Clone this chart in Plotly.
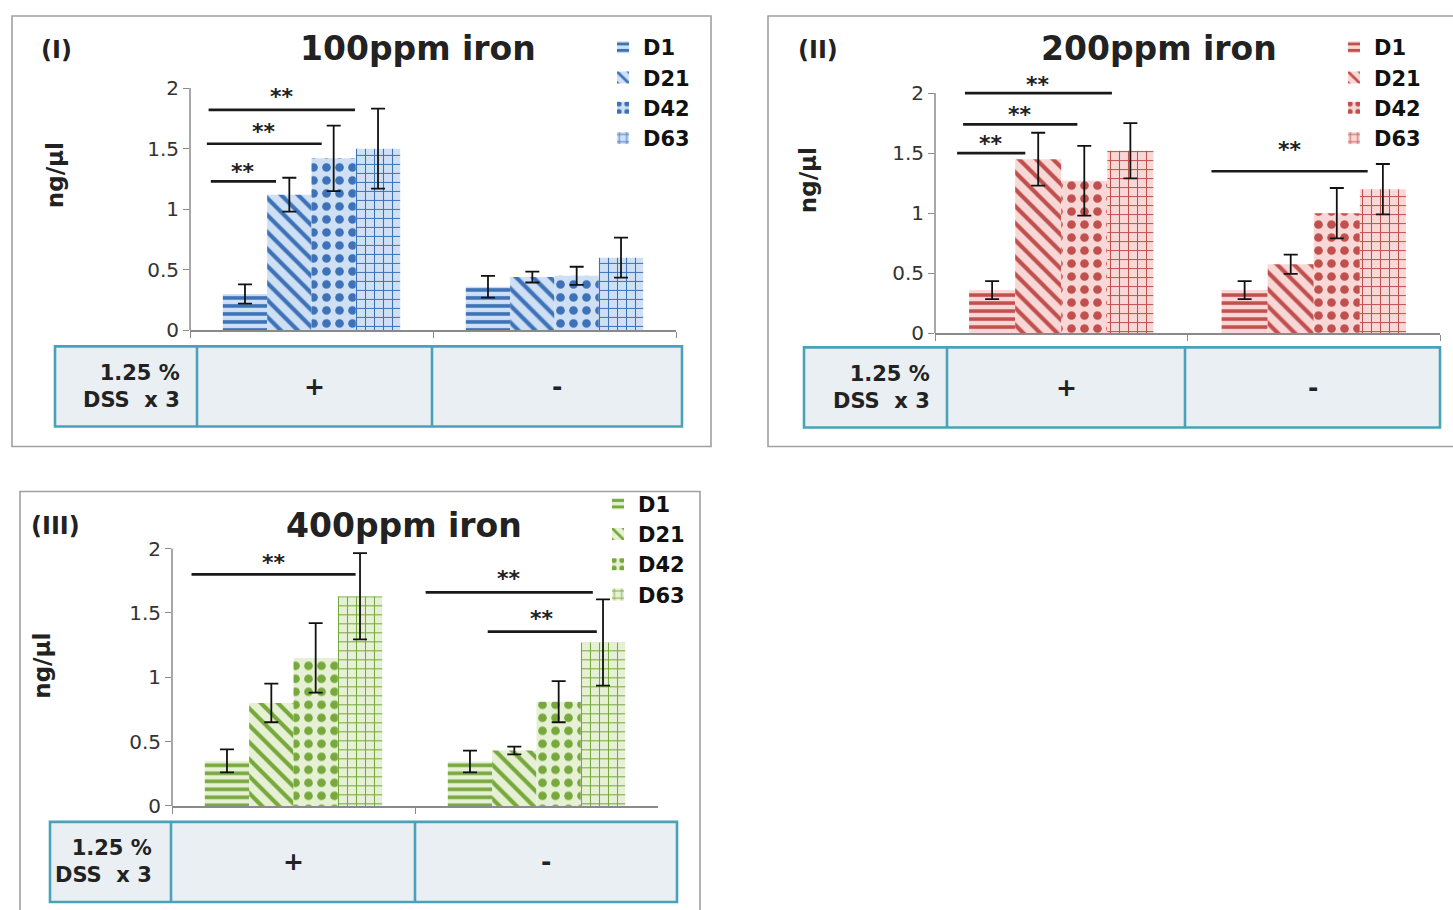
import plotly.graph_objects as go

# ---------------- data ----------------
groups = ["+", "-"]
series = ["D1", "D21", "D42", "D63"]

iron100_pos = [0.30, 1.12, 1.42, 1.50]
iron100_pos_err = [0.08, 0.14, 0.27, 0.33]
iron100_neg = [0.36, 0.44, 0.45, 0.60]
iron100_neg_err = [0.09, 0.045, 0.075, 0.165]

iron200_pos = [0.36, 1.45, 1.27, 1.52]
iron200_pos_err = [0.075, 0.22, 0.29, 0.23]
iron200_neg = [0.36, 0.575, 1.00, 1.20]
iron200_neg_err = [0.075, 0.08, 0.21, 0.21]

iron400_pos = [0.35, 0.80, 1.15, 1.63]
iron400_pos_err = [0.09, 0.15, 0.27, 0.335]
iron400_neg = [0.345, 0.43, 0.81, 1.27]
iron400_neg_err = [0.085, 0.03, 0.16, 0.335]

panel_titles = ["100ppm iron", "200ppm iron", "400ppm iron"]
panel_tags = ["(I)", "(II)", "(III)"]
y_ticks = [0, 0.5, 1, 1.5, 2]
y_tick_text = ["0", "0.5", "1", "1.5", "2"]
table_label = "1.25 %<br>DSS  x 3"

# significance brackets: (group index, start slot, end slot, line level, star level)
sig100 = [(0, -0.27, 1.2, 1.23, 1.31), (0, -0.36, 2.23, 1.54, 1.64), (0, -0.32, 2.98, 1.82, 1.93)]
sig200 = [(0, -0.26, 1.22, 1.50, 1.58), (0, -0.13, 2.35, 1.74, 1.82), (0, -0.09, 3.1, 2.00, 2.07),
          (1, -0.22, 3.17, 1.35, 1.53)]
sig400 = [(0, -0.30, 3.4, 1.80, 1.89), (1, -0.5, 3.27, 1.66, 1.77), (1, 0.9, 3.36, 1.355, 1.46)]

# ---------------- styles ----------------
W, H = 1453, 910
HC = 897  # vertical conversion basis
BARGAP = 0.27
pat_shapes = ["-", "\\", ".", "+"]
pat_sizes = [8, 12, 13, 9]
pat_solid = [0.45, 0.35, 0.35, 0.22]
palettes = [
    dict(fg="#3d72b8", bg="#cfe0f4"),
    dict(fg="#c0504d", bg="#f8d8d7"),
    dict(fg="#77a83c", bg="#e6f0d4"),
]
FONT = "DejaVu Sans"


def bold(size, color="#222222"):
    return dict(family=FONT, size=size, color=color, weight="bold")


def px(x):
    return x / W


def py(y):
    return 1 - y / HC


# panel geometry (reference pixels)
panels = [
    dict(x0=190, x1=676, y0=330, y2=88,
         frame=(12, 16, 711, 446), table=(55, 346, 682, 426, 197, 432),
         title=(418, 48), tag=(56, 50), ylab=(55, 175), legend=(603, 27),
         tbl_text_x=182),
    dict(x0=935, x1=1440, y0=333, y2=93,
         frame=(768, 16, 1470, 446), table=(804, 347, 1440, 427, 947, 1185),
         title=(1159, 48), tag=(818, 50), ylab=(808, 180), legend=(1334, 27),
         tbl_text_x=932),
    dict(x0=172, x1=658, y0=805, y2=548,
         frame=(20, 491, 700, 940), table=(50, 821, 677, 901, 171, 415),
         title=(404, 525), tag=(55, 525), ylab=(42, 665), legend=(598, 483),
         tbl_text_x=154),
]

YMAX = 2.15
data_sets = [
    (iron100_pos, iron100_pos_err, iron100_neg, iron100_neg_err, sig100),
    (iron200_pos, iron200_pos_err, iron200_neg, iron200_neg_err, sig200),
    (iron400_pos, iron400_pos_err, iron400_neg, iron400_neg_err, sig400),
]

fig = go.Figure()
shapes = []
annotations = []
layout_extra = {}

for p, (geo, (pos, pos_e, neg, neg_e, sigs), pal) in enumerate(zip(panels, data_sets, palettes)):
    i = p + 1
    xa = "x" if i == 1 else f"x{i}"
    ya = "y" if i == 1 else f"y{i}"
    leg = "legend" if i == 1 else f"legend{i}"
    ppu = (geo["y0"] - geo["y2"]) / 2.0
    ytop = geo["y0"] - ppu * YMAX

    for s, name in enumerate(series):
        fig.add_trace(go.Bar(
            x=groups, y=[pos[s], neg[s]], name=name,
            xaxis=xa, yaxis=ya, legend=leg,
            marker=dict(color=pal["bg"], line=dict(width=0),
                        pattern=dict(shape=pat_shapes[s], fgcolor=pal["fg"], bgcolor=pal["bg"],
                                     size=pat_sizes[s], solidity=pat_solid[s], fillmode="replace")),
            error_y=dict(type="data", array=[pos_e[s], neg_e[s]], color="#111111",
                         thickness=1.8, width=7),
        ))

    layout_extra[f"xaxis{'' if i == 1 else i}"] = dict(
        domain=[px(geo["x0"]), px(geo["x1"])], anchor=ya, type="category",
        range=[-0.5, 1.5], showticklabels=False, showline=True, linecolor="#8a8a8a",
        linewidth=1.5, ticks="outside", tickson="boundaries", ticklen=6, tickcolor="#8a8a8a",
        showgrid=False, zeroline=False, fixedrange=True)
    layout_extra[f"yaxis{'' if i == 1 else i}"] = dict(
        domain=[py(geo["y0"]), py(ytop)], anchor=xa, range=[0, YMAX],
        tickvals=y_ticks, ticktext=y_tick_text, ticks="outside", ticklen=6,
        tickcolor="#8a8a8a", showline=False, showgrid=False, zeroline=False,
        tickfont=dict(family=FONT, size=20, color="#333333"), fixedrange=True)
    shapes.append(dict(type="line", xref=f"{xa} domain", yref=ya, x0=0, x1=0, y0=0, y1=2,
                       line=dict(color="#8a8a8a", width=1.5)))

    lx, ly = geo["legend"]
    layout_extra[leg] = dict(x=px(lx), y=py(ly), xanchor="left", yanchor="top",
                             bgcolor="rgba(0,0,0,0)", borderwidth=0,
                             font=bold(21, "#111111"), tracegroupgap=0, itemwidth=30)

    bw = (1 - BARGAP) / 4
    for g, s0, s1, lvl, star in sigs:
        left = g - (1 - BARGAP) / 2
        xs0 = left + s0 * bw
        xs1 = left + s1 * bw
        shapes.append(dict(type="line", xref=xa, yref=ya, x0=xs0, x1=xs1, y0=lvl, y1=lvl,
                           line=dict(color="#1a1a1a", width=2.6)))
        annotations.append(dict(xref=xa, yref=ya, x=(xs0 + xs1) / 2, y=star, text="**",
                                showarrow=False, yanchor="middle", font=bold(22)))

    fx0, fy0, fx1, fy1 = geo["frame"]
    shapes.append(dict(type="rect", xref="paper", yref="paper", x0=px(fx0), x1=px(fx1),
                       y0=py(fy1), y1=py(fy0), line=dict(color="#a0a0a0", width=1.6),
                       fillcolor="rgba(0,0,0,0)", layer="below"))

    tx0, ty0, tx1, ty1, d1, d2 = geo["table"]
    shapes.append(dict(type="rect", xref="paper", yref="paper", x0=px(tx0), x1=px(tx1),
                       y0=py(ty1), y1=py(ty0), line=dict(color="#4aa2b8", width=2.6),
                       fillcolor="#e9eff3", layer="below"))
    for d in (d1, d2):
        shapes.append(dict(type="line", xref="paper", yref="paper", x0=px(d), x1=px(d),
                           y0=py(ty1), y1=py(ty0), line=dict(color="#4aa2b8", width=2.6)))
    annotations.append(dict(xref="paper", yref="paper", x=px(geo["tbl_text_x"]),
                            y=py((ty0 + ty1) / 2), text=table_label, showarrow=False,
                            xanchor="right", yanchor="middle", align="right", font=bold(21)))
    for k, gname in enumerate(groups):
        cx = (d1 + d2) / 2 if k == 0 else (d2 + tx1) / 2
        annotations.append(dict(xref="paper", yref="paper", x=px(cx), y=py((ty0 + ty1) / 2),
                                text=gname, showarrow=False, xanchor="center", yanchor="middle",
                                font=bold(25)))

    tx, tyy = geo["title"]
    annotations.append(dict(xref="paper", yref="paper", x=px(tx), y=py(tyy), text=panel_titles[p],
                            showarrow=False, xanchor="center", yanchor="middle", font=bold(33)))
    gx, gy = geo["tag"]
    annotations.append(dict(xref="paper", yref="paper", x=px(gx), y=py(gy), text=panel_tags[p],
                            showarrow=False, xanchor="center", yanchor="middle", font=bold(24)))
    lx2, ly2 = geo["ylab"]
    annotations.append(dict(xref="paper", yref="paper", x=px(lx2), y=py(ly2), text="ng/µl",
                            showarrow=False, xanchor="center", yanchor="middle", textangle=-90,
                            font=bold(23)))

fig.update_layout(
    width=W, height=H, margin=dict(l=0, r=0, t=0, b=0),
    paper_bgcolor="white", plot_bgcolor="rgba(0,0,0,0)",
    barmode="group", bargap=BARGAP, bargroupgap=0,
    shapes=shapes, annotations=annotations, showlegend=True,
    **layout_extra,
)

fig.write_html("out.html")
